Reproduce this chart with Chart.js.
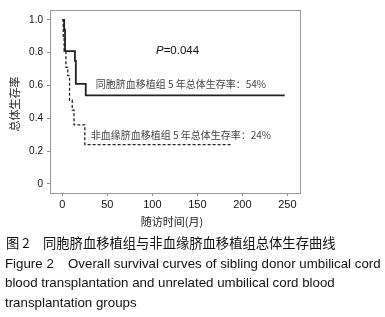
<!DOCTYPE html>
<html>
<head>
<meta charset="utf-8">
<script src="https://cdn.jsdelivr.net/npm/chart.js@4/dist/chart.umd.min.js"></script>
<style>
  html, body { margin: 0; padding: 0; background: #fff; }
  #wrap { position: relative; width: 385px; height: 317px; }
</style>
</head>
<body>
<div id="wrap"><canvas id="survivalChart"></canvas></div>
<script>
// Sibling donor cord blood group (solid)
const siblingTimes = [0, 2, 3, 14, 15, 26, 247];
const siblingSurv = [1.0, 0.94, 0.81, 0.75, 0.61, 0.54, 0.54];

// Unrelated cord blood group (dashed)
const unrelatedTimes = [0, 1, 2, 4, 6, 8, 11, 13, 25, 188];
const unrelatedSurv = [1.0, 0.9, 0.81, 0.71, 0.66, 0.51, 0.45, 0.36, 0.24, 0.24];

const xTickValues = [0, 50, 100, 150, 200, 250];
const yTickValues = [0, 0.2, 0.4, 0.6, 0.8, 1.0];

const FONT = '"Liberation Sans", Arial, "Noto Sans CJK SC", sans-serif';
const CJK = '"Noto Sans CJK SC", "Liberation Sans", sans-serif';

function toPoints(xs, ys) {
    return xs.map((x, i) => ({ x: x, y: ys[i] }));
}

const decorPlugin = {
    id: "decor",
    afterDraw(chart) {
        const ctx = chart.ctx;
        const area = chart.chartArea;
        const xs = chart.scales.x;
        const ys = chart.scales.y;
        ctx.save();

        // frame
        ctx.strokeStyle = "#999";
        ctx.lineWidth = 1;
        ctx.strokeRect(Math.round(area.left) + 0.5, Math.round(area.top) + 0.5,
            Math.round(area.right - area.left), Math.round(area.bottom - area.top));

        // P value
        ctx.textBaseline = "middle";
        ctx.textAlign = "left";
        ctx.fillStyle = "#111";
        let px = xs.getPixelForValue(104);
        const py = ys.getPixelForValue(0.81);
        ctx.font = "italic 11.5px " + FONT;
        ctx.fillText("P", px, py);
        px += ctx.measureText("P").width;
        ctx.font = "11.5px " + FONT;
        ctx.fillText("=0.044", px, py);

        // group labels
        ctx.font = "10px " + CJK;
        ctx.fillStyle = "#444";
        ctx.fillText("同胞脐血移植组 5 年总体生存率：54%", xs.getPixelForValue(37), ys.getPixelForValue(0.605));
        ctx.fillText("非血缘脐血移植组 5 年总体生存率：24%", xs.getPixelForValue(31.5), ys.getPixelForValue(0.30));

        // axis titles
        ctx.fillStyle = "#222";
        ctx.font = "11px " + CJK;
        ctx.textAlign = "center";
        ctx.fillText("随访时间(月)", 172, 222);
        ctx.save();
        ctx.translate(15, 104);
        ctx.rotate(-Math.PI / 2);
        ctx.fillText("总体生存率", 0, 0);
        ctx.restore();

        // caption
        ctx.textAlign = "left";
        ctx.fillStyle = "#111";
        ctx.font = "13.3px " + CJK;
        ctx.fillText("图 2", 6, 243);
        ctx.fillText("同胞脐血移植组与非血缘脐血移植组总体生存曲线", 43, 243);
        ctx.font = "13.3px " + FONT;
        ctx.fillText("Figure 2", 5, 264);
        ctx.fillText("Overall survival curves of sibling donor umbilical cord", 68, 264);
        ctx.fillText("blood transplantation and unrelated umbilical cord blood", 5, 283);
        ctx.fillText("transplantation groups", 5, 303);
        ctx.restore();
    },
};

const canvas = document.getElementById("survivalChart");
new Chart(canvas.getContext("2d"), {
    type: "line",
    data: {
        datasets: [
            {
                label: "sibling",
                data: toPoints(siblingTimes, siblingSurv),
                borderColor: "#222",
                borderWidth: 1.8,
                stepped: "before",
                pointRadius: 0,
                fill: false,
            },
            {
                label: "unrelated",
                data: toPoints(unrelatedTimes, unrelatedSurv),
                borderColor: "#222",
                borderWidth: 1.3,
                borderDash: [3, 2],
                stepped: "before",
                pointRadius: 0,
                fill: false,
            },
        ],
    },
    options: {
        responsive: true,
        maintainAspectRatio: false,
        animation: false,
        layout: {
            padding: { left: 0, right: 85, top: 9, bottom: 104 },
        },
        plugins: {
            legend: { display: false },
            tooltip: { enabled: false },
        },
        scales: {
            x: {
                type: "linear",
                min: -13.7,
                max: 264,
                afterBuildTicks: (scale) => {
                    scale.ticks = xTickValues.map((v) => ({ value: v }));
                },
                afterFit: (scale) => {
                    scale.height = 20;
                },
                grid: {
                    drawOnChartArea: false,
                    tickLength: 3,
                    color: "#888",
                },
                border: { display: true, color: "#999" },
                ticks: {
                    color: "#111",
                    padding: 2,
                    maxRotation: 0,
                    font: { size: 11, family: FONT },
                },
            },
            y: {
                min: -0.055,
                max: 1.06,
                afterBuildTicks: (scale) => {
                    scale.ticks = yTickValues.map((v) => ({ value: v }));
                },
                afterFit: (scale) => {
                    scale.width = 50;
                },
                grid: {
                    drawOnChartArea: false,
                    tickLength: 3,
                    color: "#888",
                },
                border: { display: true, color: "#999" },
                ticks: {
                    color: "#111",
                    padding: 4,
                    font: { size: 10, family: FONT },
                    callback: (v) => (v === 0 ? "0" : v.toFixed(1)),
                },
            },
        },
    },
    plugins: [decorPlugin],
});
</script>
</body>
</html>
